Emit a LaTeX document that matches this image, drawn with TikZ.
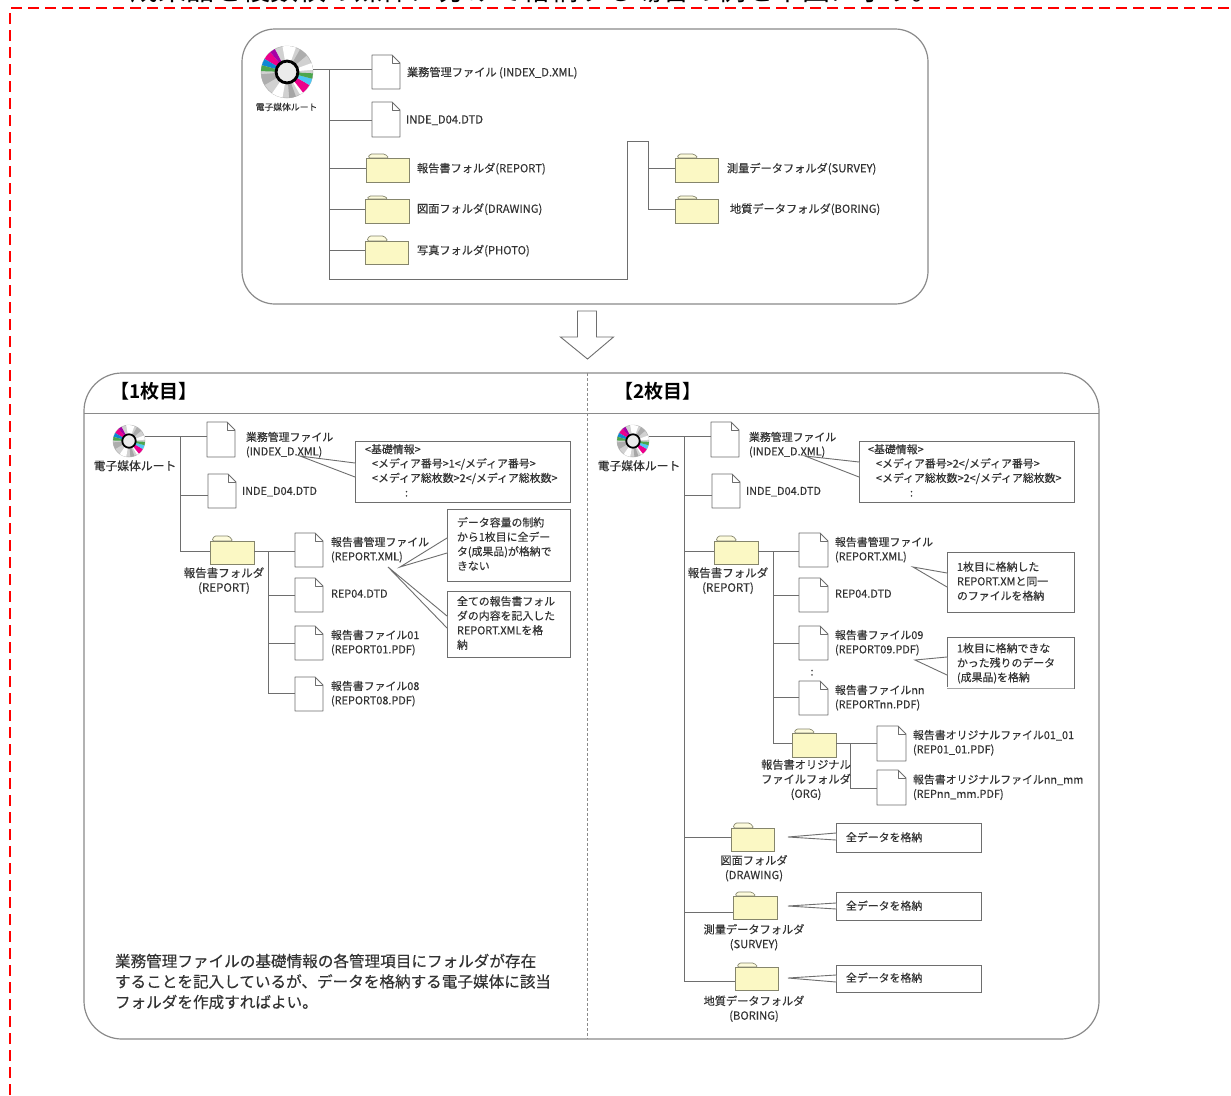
\documentclass[tikz,border=0pt]{standalone}
\usepackage{fontspec}
\setmainfont[FakeBold=0.25,BoldFont={Noto Sans CJK JP Bold},BoldFeatures={FakeBold=0}]{Noto Sans CJK JP}
\newfontfamily\plainjp{Noto Sans CJK JP}
\definecolor{lnc}{HTML}{6E6E6E}
\definecolor{panelc}{HTML}{8A8A8A}
\definecolor{folderc}{HTML}{FBF8C4}
\definecolor{folderl}{HTML}{85856C}
\definecolor{txtc}{HTML}{333333}
\tikzset{
  conn/.style={draw=lnc,line width=0.9pt},
  panel/.style={draw=panelc,line width=1.2pt,fill=white},
  outline/.style={draw=lnc,line width=0.9pt},
  blank/.style={inner sep=0pt,outer sep=0pt,rectangle},
  lbl/.style={inner sep=0pt,outer sep=0pt,yshift=-0.7pt,text=txtc,align=left,anchor=west,font=\fontsize{10.9}{14.3}\selectfont},
  clbl/.style={lbl,align=center,anchor=center},
  smalllbl/.style={lbl,font=\fontsize{11.2}{14}\selectfont},
  boxlbl/.style={lbl,font=\fontsize{10.9}{14.5}\selectfont},
  head/.style={inner sep=0pt,outer sep=0pt,anchor=west,text=black,font=\fontsize{19}{22}\bfseries\selectfont},
  notetext/.style={inner sep=0pt,outer sep=0pt,anchor=west,text=txtc,align=left,font=\fontsize{15.6}{20.5}\selectfont},
}
% name, x1, y1, x2, y2
\newcommand\docfile[5]{%
  \pgfmathsetmacro\mycx{(#2+#4)/2}\pgfmathsetmacro\mycy{(#3+#5)/2}%
  \pgfmathsetmacro\myw{#4-#2}\pgfmathsetmacro\myh{#5-#3}%
  \node[blank,minimum width=\myw pt,minimum height=\myh pt] (#1) at (\mycx,\mycy) {};
  \draw[outline,fill=white,line join=round] (#1.south west) -- (#1.north west) -- ([xshift=-8pt]#1.north east) -- ([yshift=-8pt]#1.north east) -- (#1.south east) -- cycle;
  \draw[outline,line join=round] ([xshift=-8pt]#1.north east) -- ([xshift=-8pt,yshift=-8pt]#1.north east) -- ([yshift=-8pt]#1.north east);
}
% name, x1, tabtop, bodytop, x2, bottom
\newcommand\folderbox[6]{%
  \pgfmathsetmacro\mycx{(#2+#5)/2}\pgfmathsetmacro\mycy{(#4+#6)/2}%
  \pgfmathsetmacro\myw{#5-#2}\pgfmathsetmacro\myh{#6-#4}%
  \pgfmathsetmacro\mytab{#4-#3}%
  \node[blank,minimum width=\myw pt,minimum height=\myh pt] (#1) at (\mycx,\mycy) {};
  \draw[draw=folderl,line width=0.7pt,fill=folderc!60!white,rounded corners=1.5pt] ([xshift=2pt]#1.north west) -- ([xshift=4pt,yshift=\mytab pt]#1.north west) -- ([xshift=19pt,yshift=\mytab pt]#1.north west) -- ([xshift=23pt]#1.north west) -- cycle;
  \draw[draw=folderl,line width=0.9pt,fill=folderc] (#1.south west) rectangle (#1.north east);
}
% name, cx, cy, r
\newcommand\cdisc[4]{%
  \node[circle,inner sep=0pt,outer sep=0pt,minimum size=#4*2pt,fill=black!18,draw=black!30,line width=0.5pt] (#1) at (#2,#3) {};
  \foreach \aa/\bb/\cc in {-90/-70/white,-60/-40/black!32,-20/-5/white,30/60/white,70/85/black!35,100/125/white,150/175/black!32,195/215/white,260/270/white,
    -150/-130/magenta,-165/-150/cyan!70!blue,-178/-165/green!50!black!70,-130/-118/violet!70!magenta,
    30/52/magenta,15/30/cyan!70,3/15/green!50!black!70}{
    \fill[\cc] (#2,#3) -- ++(\aa:#4) arc (\aa:\bb:#4) -- cycle;
  }
  \draw[black,line width=#4*0.11pt,fill=black!8] (#2,#3) circle[radius=#4*0.42];
}
% name, x1,y1,x2,y2
\newcommand\nbox[5]{%
  \pgfmathsetmacro\mycx{(#2+#4)/2}\pgfmathsetmacro\mycy{(#3+#5)/2}%
  \pgfmathsetmacro\myw{#4-#2}\pgfmathsetmacro\myh{#5-#3}%
  \node[blank,draw=lnc,line width=0.9pt,fill=white,minimum width=\myw pt,minimum height=\myh pt] (#1) at (\mycx,\mycy) {};
}
% box, tipx, tipy, y1, y2
\newcommand\callout[5]{%
  \coordinate (#1tip) at (#2,#3);
  \coordinate (#1p) at (0,#4);
  \coordinate (#1q) at (0,#5);
  \fill[white] (#1tip) -- (#1.west |- #1p) -- (#1.west |- #1q) -- cycle;
  \draw[conn] (#1.west |- #1p) -- (#1tip) -- (#1.west |- #1q);
}
% x, y, node : horizontal from a trunk point into the west side of a node
\newcommand\branch[4]{%
  \coordinate (#4) at (#1,#2);
  \draw[conn] (#4) -- (#4 -| #3.west);
}
\begin{document}
\begin{tikzpicture}[x=1pt,y=-1pt]
\useasboundingbox (0,0) rectangle (1231,1095);
\clip (0,0) rectangle (1231,1095);
\fill[white] (0,0) rectangle (1231,1095);

% heading, cut by the page edge
\node[inner sep=0pt,anchor=west,text=black,font=\plainjp\fontsize{28}{30}\selectfont] (title) at (130,-10) {成果品を複数枚の媒体に分けて格納する場合の例を下図に示す。};

% red frame
\draw[red,line width=2pt,dash pattern=on 11pt off 6pt] (10,1095) -- (10,8) -- (1231,8);

% ---------- upper panel
\draw[panel,rounded corners=33pt] (242,29) rectangle (928,304);
\cdisc{rootA}{287}{72}{26}
\node[inner sep=0pt,text=txtc,font=\fontsize{8.8}{10}\selectfont] (rootAl) at (286.5,107) {電子媒体ルート};
\docfile{tf1}{372}{55}{400}{89}
\docfile{tf2}{372}{102}{400}{137}
\folderbox{td1}{366}{154}{158}{409}{182}
\folderbox{td2}{365}{196}{199}{409}{223}
\folderbox{td3}{365}{236}{241}{408}{264}
\folderbox{td4}{675}{154}{158}{718}{182}
\folderbox{td5}{675}{196}{199}{718}{223}
\coordinate (ttop) at (329,69);
\coordinate (tbot) at (329,279);
\coordinate (tup) at (627,141);
\coordinate (tright) at (648,141);
\coordinate (tend) at (648,209);
\draw[conn] (rootA.east |- ttop) -- (ttop -| tf1.west);
\draw[conn] (ttop) -- (tbot) -- (tbot -| tup) -- (tup) -- (tright) -- (tend) -- (tend -| td5.west);
\branch{329}{120}{tf2}{ta1}
\branch{329}{168}{td1}{ta2}
\branch{329}{209}{td2}{ta3}
\branch{329}{250}{td3}{ta4}
\branch{648}{168}{td4}{ta5}
\node[smalllbl] (tl1) at (407,72) {業務管理ファイル (INDEX\_D.XML)};
\node[smalllbl] (tl2) at (406,119.5) {INDE\_D04.DTD};
\node[smalllbl] (tl3) at (417,168) {報告書フォルダ(REPORT)};
\node[smalllbl] (tl4) at (417,208.5) {図面フォルダ(DRAWING)};
\node[smalllbl] (tl5) at (417,250) {写真フォルダ(PHOTO)};
\node[smalllbl] (tl6) at (727,168) {測量データフォルダ(SURVEY)};
\node[smalllbl] (tl7) at (730,208.5) {地質データフォルダ(BORING)};

% block arrow
\draw[draw=lnc,line width=0.9pt,fill=white,line join=miter] (577.5,311) -- (596.5,311) -- (596.5,337) -- (613.5,337) -- (587.5,359) -- (560.5,337) -- (577.5,337) -- cycle;

% ---------- lower panel
\draw[panel,rounded corners=38pt] (84,373) rectangle (1099,1039);
\coordinate (ruleL) at (84,413);
\coordinate (ruleR) at (1099,413);
\draw[draw=panelc,line width=1pt] (ruleL) -- (ruleR);
\coordinate (divT) at (587.5,373);
\coordinate (divB) at (587.5,1039);
\draw[draw=panelc,line width=1pt,dash pattern=on 3pt off 2pt] (divT) -- (divB);
\node[head] (h1) at (110,391.5) {【1枚目】};
\node[head] (h2) at (614,391.5) {【2枚目】};

% ---------- left column
\cdisc{rootB}{129}{441}{16}
\node[clbl,font=\fontsize{11.8}{14}\selectfont] (rootBl) at (135,465) {電子媒体ルート};
\docfile{af1}{207}{422}{235}{457}
\docfile{af2}{208}{474}{236}{508}
\folderbox{ad1}{210}{536}{541}{254}{564}
\docfile{af3}{295}{533}{323}{567}
\docfile{af4}{295}{578}{323}{612}
\docfile{af5}{295}{626}{323}{660}
\docfile{af6}{295}{677}{323}{711}
\coordinate (atop) at (180,436);
\coordinate (abot) at (180,551);
\draw[conn] (rootB.east |- atop) -- (atop -| af1.west);
\draw[conn] (atop) -- (abot) -- (abot -| ad1.west);
\branch{180}{495}{af2}{aa1}
\coordinate (btop) at (268,551);
\coordinate (bbot) at (268,693);
\draw[conn] (ad1.east |- btop) -- (btop -| af3.west);
\draw[conn] (btop) -- (bbot) -- (bbot -| af6.west);
\branch{268}{595}{af4}{aa2}
\branch{268}{643}{af5}{aa3}
\nbox{ab1}{355}{441}{570}{502}
\nbox{ab2}{447}{509}{570}{581}
\nbox{ab3}{447}{591}{570}{657}
\callout{ab1}{300}{456}{463}{477}
\callout{ab2}{400}{567}{538}{553}
\callout{ab3}{388}{567}{616}{628}
\node[lbl] (al1) at (246,444) {業務管理ファイル\\(INDEX\_D.XML)};
\node[lbl] (al2) at (242,491) {INDE\_D04.DTD};
\node[clbl,font=\fontsize{11.5}{14.6}\selectfont] (al3) at (224,580) {報告書フォルダ\\(REPORT)};
\node[lbl] (al4) at (331,549) {報告書管理ファイル\\(REPORT.XML)};
\node[lbl] (al5) at (331,593) {REP04.DTD};
\node[lbl] (al6) at (331,642) {報告書ファイル01\\(REPORT01.PDF)};
\node[lbl] (al7) at (331,693) {報告書ファイル08\\(REPORT08.PDF)};
\node[boxlbl,anchor=north west] (at1) at (365,443.5) {<基礎情報>\\[-0.3pt]\hspace*{7pt}<メディア番号>1</メディア番号>\\\hspace*{7pt}<メディア総枚数>2</メディア総枚数>\\\hspace*{40pt}:};
\node[boxlbl,anchor=north west] (at2) at (457,516.5) {データ容量の制約\\から1枚目に全デー\\タ(成果品)が格納で\\きない};
\node[boxlbl,anchor=north west] (at3) at (457,595.5) {全ての報告書フォル\\ダの内容を記入した\\REPORT.XMLを格\\納};
\node[notetext] (note) at (115,981.5) {業務管理ファイルの基礎情報の各管理項目にフォルダが存在\\することを記入しているが、データを格納する電子媒体に該当\\フォルダを作成すればよい。};

% ---------- right column
\cdisc{rootC}{633}{441}{16}
\node[clbl,font=\fontsize{11.8}{14}\selectfont] (rootCl) at (639,465) {電子媒体ルート};
\docfile{cf1}{711}{422}{739}{457}
\docfile{cf2}{712}{474}{740}{508}
\folderbox{cd1}{714}{536}{541}{758}{564}
\docfile{cf3}{799}{533}{828}{567}
\docfile{cf4}{799}{578}{828}{612}
\docfile{cf5}{799}{626}{828}{660}
\docfile{cf6}{799}{681}{828}{715}
\folderbox{cd2}{792}{729}{733}{836}{757}
\docfile{cf7}{877}{726}{906}{761}
\docfile{cf8}{877}{770}{906}{805}
\folderbox{cd3}{731}{823}{828}{774}{851}
\folderbox{cd4}{733}{892}{896}{777}{919}
\folderbox{cd5}{735}{963}{967}{778}{990}
\coordinate (ctop) at (684,436);
\coordinate (cbot) at (684,981);
\draw[conn] (rootC.east |- ctop) -- (ctop -| cf1.west);
\draw[conn] (ctop) -- (cbot) -- (cbot -| cd5.west);
\branch{684}{495}{cf2}{ca1}
\branch{684}{551}{cd1}{ca2}
\branch{684}{837}{cd3}{ca3}
\branch{684}{912}{cd4}{ca4}
\coordinate (dtop) at (773,551);
\coordinate (dbot) at (773,743);
\draw[conn] (cd1.east |- dtop) -- (dtop -| cf3.west);
\draw[conn] (dtop) -- (dbot) -- (dbot -| cd2.west);
\branch{773}{595}{cf4}{ca5}
\branch{773}{643}{cf5}{ca6}
\branch{773}{697}{cf6}{ca7}
\coordinate (etop) at (850,743);
\coordinate (ebot) at (850,788);
\draw[conn] (cd2.east |- etop) -- (etop -| cf7.west);
\draw[conn] (etop) -- (ebot) -- (ebot -| cf8.west);
\nbox{cb1}{859}{441}{1074}{502}
\nbox{cb2}{947}{552}{1074}{612}
\nbox{cb3}{947}{637}{1074}{688}
\draw[white,line width=1.2pt] (cb3.south west) -- (cb3.south east);
\draw[black!35,line width=0.5pt] (cb3.south west) -- (cb3.south east);
\nbox{cb4}{836}{823}{981}{852}
\nbox{cb5}{836}{892}{981}{920}
\nbox{cb6}{836}{965}{981}{992}
\callout{cb1}{805}{456}{462}{477}
\callout{cb2}{913}{567}{573}{587}
\callout{cb3}{915}{660}{657}{675}
\callout{cb4}{788}{837}{833}{840}
\callout{cb5}{788}{906}{903}{909}
\callout{cb6}{788}{978}{975}{982}
\node[lbl] (cl1) at (749,444) {業務管理ファイル\\(INDEX\_D.XML)};
\node[lbl] (cl2) at (746,491) {INDE\_D04.DTD};
\node[clbl,font=\fontsize{11.5}{14.6}\selectfont] (cl3) at (728,580) {報告書フォルダ\\(REPORT)};
\node[lbl] (cl4) at (835,549) {報告書管理ファイル\\(REPORT.XML)};
\node[lbl] (cl5) at (835,593) {REP04.DTD};
\node[lbl] (cl6) at (835,642) {報告書ファイル09\\(REPORT09.PDF)};
\node[clbl] (cl7) at (812,672) {:};
\node[lbl] (cl8) at (835,697) {報告書ファイルnn\\(REPORTnn.PDF)};
\node[lbl] (cl9) at (913,742) {報告書オリジナルファイル01\_01\\(REP01\_01.PDF)};
\node[lbl] (cl10) at (913,786.5) {報告書オリジナルファイルnn\_mm\\(REPnn\_mm.PDF)};
\node[clbl,font=\fontsize{11.2}{14.5}\selectfont] (cl11) at (806,779) {報告書オリジナル\\ファイルフォルダ\\(ORG)};
\node[clbl,font=\fontsize{11.2}{14.6}\selectfont] (cl12) at (754,867.5) {図面フォルダ\\(DRAWING)};
\node[clbl,font=\fontsize{11.2}{14.6}\selectfont] (cl13) at (754,936.5) {測量データフォルダ\\(SURVEY)};
\node[clbl,font=\fontsize{11.2}{14.6}\selectfont] (cl14) at (754,1008) {地質データフォルダ\\(BORING)};
\node[boxlbl,anchor=north west] (ct1) at (868,443.5) {<基礎情報>\\[-0.3pt]\hspace*{8pt}<メディア番号>2</メディア番号>\\\hspace*{8pt}<メディア総枚数>2</メディア総枚数>\\\hspace*{42pt}:};
\node[boxlbl,anchor=north west] (ct2) at (957,561) {1枚目に格納した\\REPORT.XMと同一\\のファイルを格納};
\node[boxlbl,anchor=north west] (ct3) at (957,642.5) {1枚目に格納できな\\かった残りのデータ\\(成果品)を格納};
\node[boxlbl] (ct4) at (846,836.5) {全データを格納};
\node[boxlbl] (ct5) at (846,905) {全データを格納};
\node[boxlbl] (ct6) at (846,977) {全データを格納};
\end{tikzpicture}
\end{document}
